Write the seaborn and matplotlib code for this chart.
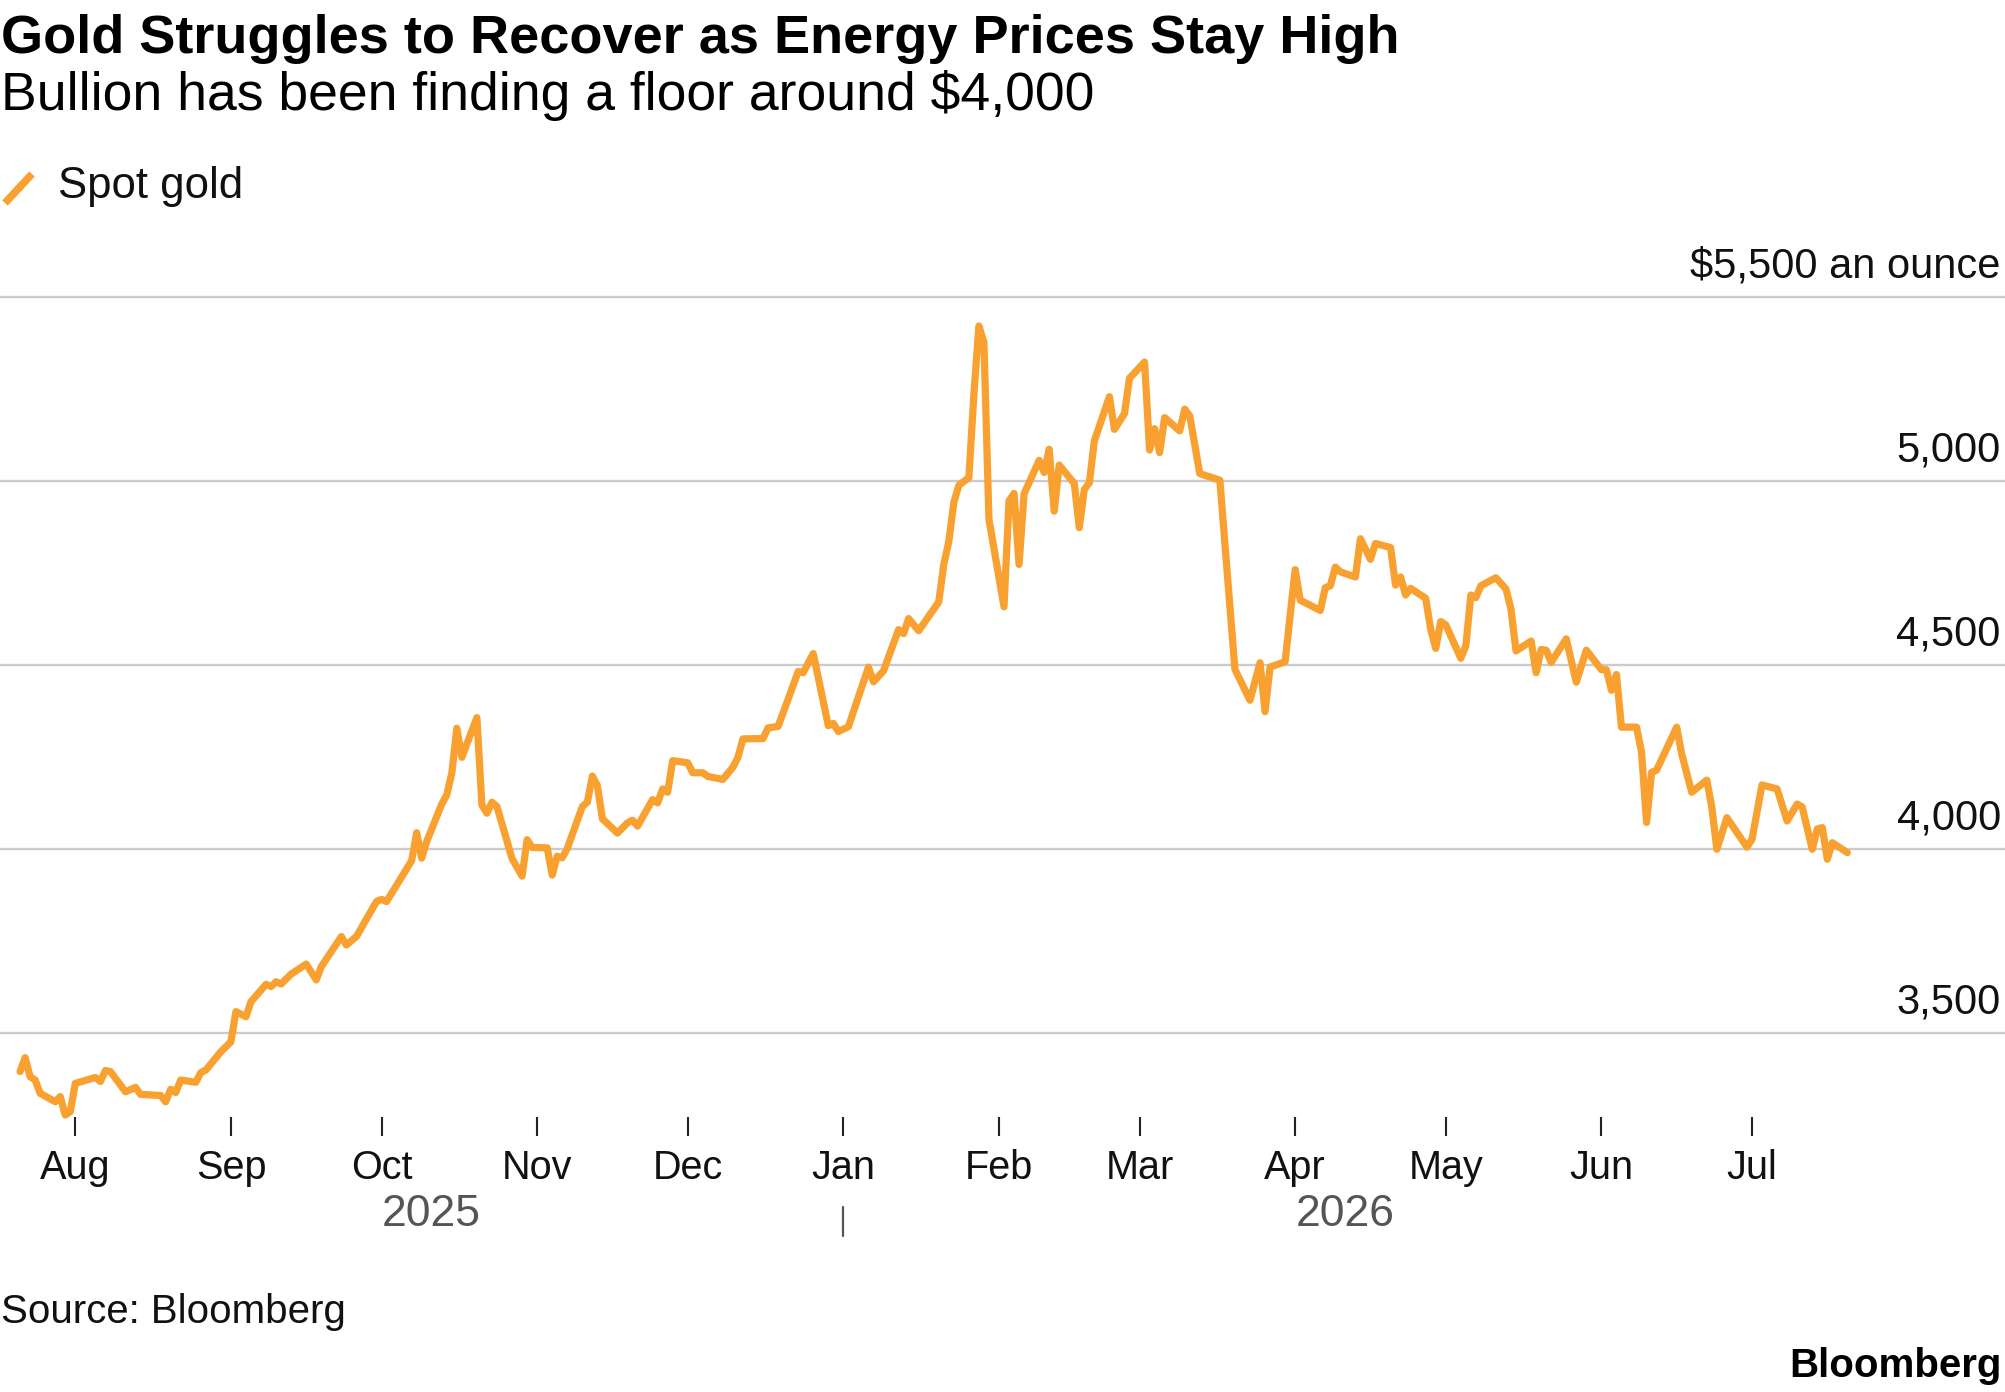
import numpy as np
import pandas as pd
import matplotlib
matplotlib.use("Agg")
import matplotlib.pyplot as plt
from matplotlib.lines import Line2D
import seaborn as sns

# ---------------- data ----------------
# days since 2025-08-01
day_offsets = [
    -11, -10, -9, -8, -7, -4, -3, -2, -1, 0, 4, 5, 6, 7, 10, 12, 13, 17, 18, 19,
    20, 21, 24, 25, 26, 29, 31, 32, 34, 35, 38, 39, 40, 41, 43, 46, 48, 49, 53, 54,
    56, 60, 61, 62, 67, 68, 69, 70, 73, 74, 75, 76, 77, 80, 81, 82, 83, 84, 87, 89,
    90, 91, 94, 95, 96, 97, 98, 101, 102, 103, 104, 105, 108, 110, 111, 112, 115, 116, 117, 118,
    119, 122, 123, 125, 126, 129, 131, 132, 133, 137, 138, 140, 142, 144, 145, 147, 150, 151, 152, 154,
    158, 159, 161, 164, 165, 166, 168, 172, 173, 174, 175, 176, 178, 179, 180, 181, 182, 185, 186, 187,
    188, 189, 192, 193, 194, 195, 196, 199, 200, 201, 202, 203, 206, 207, 209, 210, 213, 214, 215, 216,
    217, 220, 221, 222, 224, 228, 231, 234, 236, 237, 238, 241, 243, 244, 248, 249, 250, 251, 252, 255,
    256, 258, 259, 262, 263, 264, 265, 266, 269, 270, 271, 272, 273, 276, 277, 278, 279, 280, 283, 285,
    286, 287, 290, 291, 292, 293, 294, 297, 299, 301, 304, 305, 306, 307, 308, 311, 312, 313, 314, 315,
    319, 320, 322, 325, 326, 327, 329, 333, 334, 336, 339, 341, 343, 344, 346, 347, 348, 349, 350, 353,
]
spot_gold = [
    3396, 3434, 3382, 3373, 3337, 3314, 3328, 3278, 3287, 3364, 3380, 3369, 3399, 3396, 3341, 3353, 3334, 3331, 3314, 3348,
    3339, 3373, 3367, 3393, 3400, 3450, 3477, 3559, 3545, 3586, 3633, 3627, 3640, 3634, 3661, 3688, 3645, 3681, 3763, 3740,
    3763, 3858, 3864, 3858, 3969, 4045, 3976, 4021, 4123, 4148, 4207, 4329, 4250, 4358, 4120, 4098, 4128, 4116, 3975, 3927,
    4026, 4005, 4004, 3930, 3981, 3977, 4002, 4116, 4128, 4199, 4173, 4083, 4044, 4072, 4079, 4063, 4135, 4126, 4164, 4155,
    4241, 4235, 4208, 4208, 4198, 4190, 4223, 4250, 4300, 4301, 4330, 4334, 4408, 4483, 4480, 4532, 4336, 4342, 4320, 4333,
    4495, 4455, 4485, 4597, 4586, 4627, 4594, 4672, 4774, 4836, 4942, 4989, 5010, 5236, 5422, 5377, 4897, 4659, 4947, 4967,
    4774, 4966, 5057, 5024, 5087, 4919, 5044, 4994, 4874, 4978, 4996, 5110, 5230, 5141, 5184, 5280, 5324, 5085, 5143, 5078,
    5173, 5137, 5196, 5178, 5021, 5003, 4489, 4405, 4507, 4374, 4495, 4510, 4760, 4677, 4649, 4711, 4716, 4767, 4754, 4740,
    4844, 4788, 4831, 4820, 4718, 4740, 4691, 4709, 4682, 4598, 4546, 4619, 4610, 4519, 4553, 4691, 4684, 4716, 4738, 4707,
    4652, 4539, 4566, 4480, 4543, 4541, 4508, 4572, 4454, 4541, 4488, 4488, 4432, 4475, 4332, 4332, 4264, 4073, 4209, 4215,
    4332, 4259, 4155, 4188, 4114, 4000, 4086, 4006, 4027, 4175, 4164, 4077, 4123, 4115, 4000, 4055, 4059, 3973, 4018, 3991,
]
month_ticks = ["2025-08-01", "2025-09-01", "2025-10-01", "2025-11-01", "2025-12-01", "2026-01-01",
               "2026-02-01", "2026-03-01", "2026-04-01", "2026-05-01", "2026-06-01", "2026-07-01"]
month_labels = ["Aug", "Sep", "Oct", "Nov", "Dec", "Jan", "Feb", "Mar", "Apr", "May", "Jun", "Jul"]
y_ticks = [3500, 4000, 4500, 5000, 5500]
y_tick_labels = ["3,500", "4,000", "4,500", "5,000", "$5,500 an ounce"]
year_labels = ["2025", "2026"]
year_break = "2026-01-01"

title = "Gold Struggles to Recover as Energy Prices Stay High"
subtitle = "Bullion has been finding a floor around $4,000"
series_name = "Spot gold"
source = "Source: Bloomberg"
brand = "Bloomberg"

# ---------------- styling ----------------
GOLD = "#F8A130"
GRID = "#CBCBCB"
W, H = 2005, 1392

sns.set_theme(style="white")
plt.rcParams["font.family"] = ["Liberation Sans", "DejaVu Sans"]

base = pd.Timestamp("2025-08-01")
dates = base + pd.to_timedelta(day_offsets, unit="D")
df = pd.DataFrame({"date": dates, "price": spot_gold})

fig = plt.figure(figsize=(W / 100, H / 100), dpi=100)
fig.patch.set_facecolor("white")

ax_top_px, ax_bot_px = 280, 1117
ax = fig.add_axes([0, 1 - ax_bot_px / H, 1, (ax_bot_px - ax_top_px) / H])
ax.set_facecolor("white")

# pixel scales
px_per_day = 5.02
x0_px = 75.3           # Aug 1
y4000_px = 849.3
px_per_500 = 184.0

left = base - pd.Timedelta(days=x0_px / px_per_day)
right = base + pd.Timedelta(days=(W - x0_px) / px_per_day)
ybot = 4000 - (ax_bot_px - y4000_px) / px_per_500 * 500
ytop = 4000 + (y4000_px - ax_top_px) / px_per_500 * 500

sns.lineplot(data=df, x="date", y="price", ax=ax, color=GOLD, linewidth=5.2,
             solid_joinstyle="round", solid_capstyle="round", zorder=3)
for ln in ax.lines:
    ln.set_clip_on(False)

ax.set_xlim(left, right)
ax.set_ylim(ybot, ytop)

for s in ax.spines.values():
    s.set_visible(False)

ax.set_yticks(y_ticks)
ax.yaxis.grid(True, color=GRID, linewidth=1.7, zorder=0)
ax.xaxis.grid(False)
ax.tick_params(axis="y", length=0, labelleft=False, labelright=False)
for v, lab in zip(y_ticks, y_tick_labels):
    ax.annotate(lab, xy=(1, v), xycoords=("axes fraction", "data"),
                xytext=(-3, 14.5), textcoords="offset points",
                ha="right", va="baseline", fontsize=30, color="#111111")

ax.set_xticks(pd.to_datetime(month_ticks))
ax.set_xticklabels(month_labels)
ax.tick_params(axis="x", length=14, width=1.5, color="#222222", pad=9,
               labelsize=28.5, labelcolor="#111111", direction="out", bottom=True)
ax.set_xlabel("")
ax.set_ylabel("")

# year labels and separator
ax_h = ax_bot_px - ax_top_px
def axfrac(py):
    return (ax_bot_px - py) / ax_h

jan = pd.Timestamp(year_break)
first, last = dates[0], dates[-1]
mid25 = first + (jan - first) / 2
mid26 = jan + (last - jan) / 2
ax.plot([jan, jan], [axfrac(1207), axfrac(1236)], transform=ax.get_xaxis_transform(),
        color="#555555", linewidth=1.6, clip_on=False)
for xc, lab in zip([mid25, mid26], year_labels):
    ax.text(xc, axfrac(1214), lab, transform=ax.get_xaxis_transform(),
            ha="center", va="center", fontsize=32, color="#555555")

# headline texts
def fy(py):
    return 1 - py / H

fig.text(1 / W, fy(53), title, fontsize=39, fontweight="bold", color="#000000",
         ha="left", va="baseline")
fig.text(1 / W, fy(110), subtitle, fontsize=38.5, color="#000000",
         ha="left", va="baseline")

# legend
fig.add_artist(Line2D([5 / W, 32 / W], [fy(203), fy(174)], color=GOLD, linewidth=5.5,
                      solid_capstyle="butt"))
fig.text(58 / W, fy(198), series_name, fontsize=31.5, color="#111111",
         ha="left", va="baseline")

fig.text(1 / W, fy(1323), source, fontsize=29, color="#111111", ha="left", va="baseline")
fig.text(2002 / W, fy(1377), brand, fontsize=29, fontweight="bold", color="#000000",
         ha="right", va="baseline")

fig.savefig("out.png", dpi=100, facecolor="white")
